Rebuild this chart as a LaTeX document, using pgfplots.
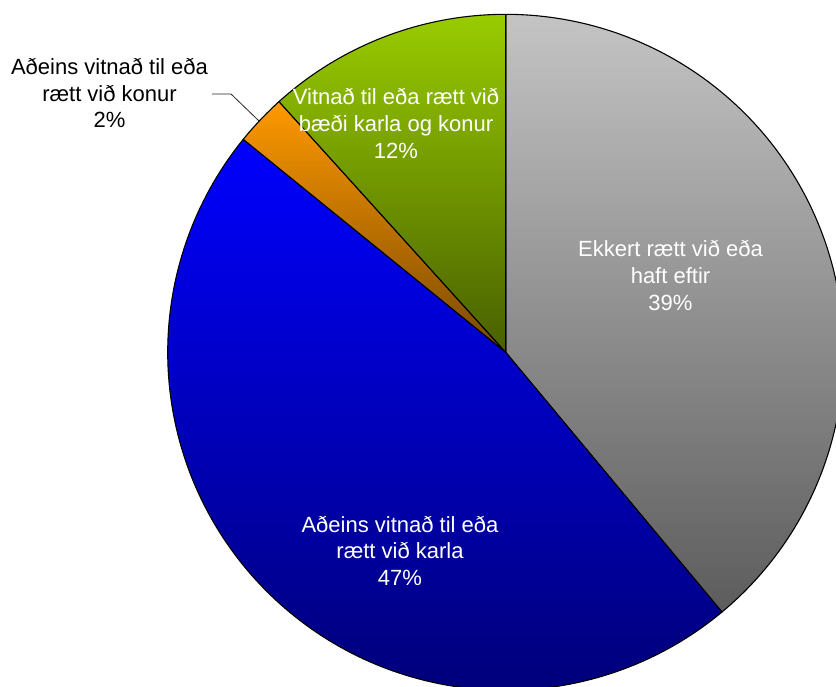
\documentclass[border=0pt]{standalone}
\usepackage{pgfplots}
\pgfplotsset{compat=1.18}
\usepackage{pgfplotstable}
\usepackage{fontspec}
\setmainfont{Liberation Sans}
\definecolor{grayT}{RGB}{196,196,196}
\definecolor{grayB}{RGB}{92,92,92}
\definecolor{blueT}{RGB}{0,0,255}
\definecolor{blueB}{RGB}{0,0,122}
\definecolor{oranT}{RGB}{255,153,0}
\definecolor{oranB}{RGB}{120,72,0}
\definecolor{grenT}{RGB}{153,204,0}
\definecolor{grenB}{RGB}{72,96,0}
\newcommand\lbl{\fontsize{22bp}{26bp}\selectfont}
\pgfplotstableread{
name value
Ekkert 38.95
Karla 46.9
Konur 2.45
Baedi 11.7
}\piedata
\pgfplotstablegetelem{0}{value}\of\piedata \let\vA\pgfplotsretval
\pgfplotstablegetelem{1}{value}\of\piedata \let\vB\pgfplotsretval
\pgfplotstablegetelem{2}{value}\of\piedata \let\vC\pgfplotsretval
\pgfplotstablegetelem{3}{value}\of\piedata \let\vD\pgfplotsretval
\pgfmathsetmacro\aA{90}
\pgfmathsetmacro\aB{\aA-3.6*\vA}
\pgfmathsetmacro\aC{\aB-3.6*\vB}
\pgfmathsetmacro\aD{\aC-3.6*\vC}
\pgfmathsetmacro\aE{\aD-3.6*\vD}
\def\cx{505.7}
\def\cy{352.3}
\def\R{338}
\begin{document}
\begin{tikzpicture}
\begin{axis}[
  width=836bp, height=687bp, scale only axis,
  xmin=0, xmax=836, ymin=0, ymax=687, y dir=reverse,
  hide axis, clip=true,
]
\addplot[draw=black, line width=1.1bp, line join=round, top color=grayT, bottom color=grayB,
  domain=\aB:\aA, samples=150, variable=\t]
  ({\cx+\R*cos(\t)},{\cy-\R*sin(\t)}) -- (axis cs:\cx,\cy) -- cycle;
\addplot[draw=black, line width=1.1bp, line join=round, top color=blueT, bottom color=blueB,
  domain=\aC:\aB, samples=150, variable=\t]
  ({\cx+\R*cos(\t)},{\cy-\R*sin(\t)}) -- (axis cs:\cx,\cy) -- cycle;
\addplot[draw=black, line width=1.1bp, line join=round, top color=oranT, bottom color=oranB,
  domain=\aD:\aC, samples=20, variable=\t]
  ({\cx+\R*cos(\t)},{\cy-\R*sin(\t)}) -- (axis cs:\cx,\cy) -- cycle;
\addplot[draw=black, line width=1.1bp, line join=round, top color=grenT, bottom color=grenB,
  domain=\aE:\aD, samples=60, variable=\t]
  ({\cx+\R*cos(\t)},{\cy-\R*sin(\t)}) -- (axis cs:\cx,\cy) -- cycle;
\addplot[draw=black!85, line width=0.8bp] coordinates {(212,94) (231,94) (259,121)};
% labels
\node[white, anchor=base, font=\lbl] at (axis cs:670.5,256.7) {Ekkert rætt við eða};
\node[white, anchor=base, font=\lbl] at (axis cs:670.5,283.2) {haft eftir};
\node[white, anchor=base, font=\lbl] at (axis cs:670.5,310.2) {39\%};
\node[white, anchor=base, font=\lbl] at (axis cs:400,532) {Aðeins vitnað til eða};
\node[white, anchor=base, font=\lbl] at (axis cs:400,558.5) {rætt við karla};
\node[white, anchor=base, font=\lbl] at (axis cs:400,585) {47\%};
\node[white, anchor=base, font=\lbl] at (axis cs:396,105) {Vitnað til eða rætt við};
\node[white, anchor=base, font=\lbl] at (axis cs:396,132) {bæði karla og konur};
\node[white, anchor=base, font=\lbl] at (axis cs:396,159) {12\%};
\node[black, anchor=base, font=\lbl] at (axis cs:109.5,75) {Aðeins vitnað til eða};
\node[black, anchor=base, font=\lbl] at (axis cs:109.5,102) {rætt við konur};
\node[black, anchor=base, font=\lbl] at (axis cs:109.5,128) {2\%};
\end{axis}
\pgfresetboundingbox
\path[use as bounding box] (current axis.south west) rectangle (current axis.north east);
\end{tikzpicture}
\end{document}
